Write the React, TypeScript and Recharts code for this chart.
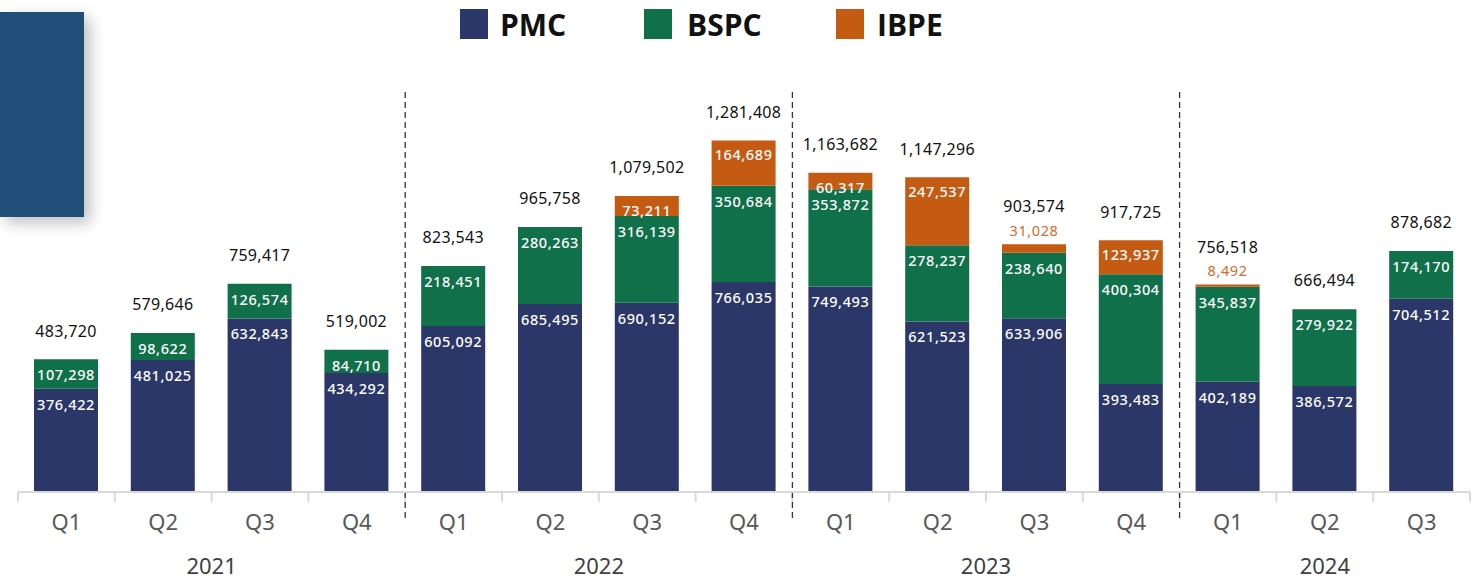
import { BarChart, Bar, XAxis, YAxis, LabelList, ReferenceLine } from 'recharts';

const years = ['2021', '2022', '2023', '2024'];
const quarters = ['Q1', 'Q2', 'Q3', 'Q4', 'Q1', 'Q2', 'Q3', 'Q4', 'Q1', 'Q2', 'Q3', 'Q4', 'Q1', 'Q2', 'Q3'];
const quarterYears = ['2021', '2021', '2021', '2021', '2022', '2022', '2022', '2022', '2023', '2023', '2023', '2023', '2024', '2024', '2024'];
const pmc = [376422, 481025, 632843, 434292, 605092, 685495, 690152, 766035, 749493, 621523, 633906, 393483, 402189, 386572, 704512];
const bspc = [107298, 98622, 126574, 84710, 218451, 280263, 316139, 350684, 353872, 278237, 238640, 400304, 345837, 279922, 174170];
const ibpe = [0, 0, 0, 0, 0, 0, 73211, 164689, 60317, 247537, 31028, 123937, 8492, 0, 0];
const totals = [483720, 579646, 759417, 519002, 823543, 965758, 1079502, 1281408, 1163682, 1147296, 903574, 917725, 756518, 666494, 878682];

const data = quarters.map((q, i) => ({
  id: quarterYears[i] + '-' + q,
  q,
  year: quarterYears[i],
  pmc: pmc[i],
  bspc: bspc[i],
  ibpe: ibpe[i],
  total: totals[i],
}));

const ids = data.map((d) => d.id);
// first quarter of each year after the first -> dashed separators
const yearStarts = years.slice(1).map((y) => y + '-Q1');
// tick on the quarter just left of each year's middle
const yearTicks = years.map((y) => {
  const qs = ids.filter((id) => id.startsWith(y));
  return qs[Math.floor((qs.length - 1) / 2)];
});

const COLORS = { pmc: '#2b3669', bspc: '#10704a', ibpe: '#c55a13' };
const FONT = '"Noto Sans", sans-serif';
const fmt = (v: number) => v.toLocaleString('en-US');

function InsideLabel(props: any) {
  const { x, y, width, height, value } = props;
  if (!value || height < 14) return null;
  return (
    <text x={x + width / 2} y={y + 17} fill="#fff" fontSize={14.5} fontWeight={500}
      fontFamily={FONT} textAnchor="middle" dominantBaseline="middle" letterSpacing={0.6}>
      {fmt(value)}
    </text>
  );
}

function IbpeLabel(props: any) {
  const { x, y, width, height, value } = props;
  if (!value) return null;
  const small = height < 14;
  return (
    <text x={x + width / 2} y={small ? y - 12 : y + 16} fill={small ? '#d9692a' : '#fff'}
      fontSize={14.5} fontWeight={small ? 400 : 500} fontFamily={FONT}
      textAnchor="middle" dominantBaseline="middle" letterSpacing={0.6}>
      {fmt(value)}
    </text>
  );
}

// rendered on the BSPC bar (always present); the IBPE part on top is derived from the bar's own px/unit ratio
function TotalLabel(props: any) {
  const { x, y, width, height, index } = props;
  const ratio = height / bspc[index];
  const ibpeH = ibpe[index] * ratio;
  const top = y - ibpeH;
  const smallIbpe = ibpe[index] > 0 && ibpeH < 14;
  return (
    <text x={x + width / 2} y={top - (smallIbpe ? 36 : 27)} fill="#111" fontSize={16}
      fontFamily={FONT} textAnchor="middle" dominantBaseline="middle" letterSpacing={0.3}>
      {fmt(totals[index])}
    </text>
  );
}

function YearTick(props: any) {
  const { x, y, payload } = props;
  const year = payload.value.slice(0, 4);
  const count = quarterYears.filter((v) => v === year).length;
  const cx = count % 2 === 0 ? x + payload.offset : x;
  return (
    <text x={cx} y={y + 26} fill="#404040" fontSize={22} fontFamily={FONT} textAnchor="middle">
      {year}
    </text>
  );
}

function Legend() {
  const items = [
    { name: 'PMC', color: COLORS.pmc, box: 460, text: 500 },
    { name: 'BSPC', color: COLORS.bspc, box: 644, text: 687 },
    { name: 'IBPE', color: COLORS.ibpe, box: 836, text: 877 },
  ];
  return (
    <>
      {items.map((it) => (
        <div key={it.name}>
          <div style={{ position: 'absolute', left: it.box, top: 9, width: 28, height: 30, background: it.color }} />
          <div style={{ position: 'absolute', left: it.text, top: 5, fontFamily: '"Open Sans", sans-serif', fontWeight: 700, fontSize: 30, lineHeight: '40px', color: '#111' }}>
            {it.name}
          </div>
        </div>
      ))}
    </>
  );
}

export default function App() {
  const last = ids[ids.length - 1];
  return (
    <div style={{ position: 'absolute', left: 0, top: 0, width: 1473, height: 583, background: '#fff', overflow: 'hidden' }}>
      <div style={{ position: 'absolute', left: 0, top: 12, width: 84, height: 205, background: '#1f4e79', boxShadow: '6px 6px 14px rgba(0,0,0,0.25)' }} />
      <Legend />
      <BarChart width={1473} height={583} data={data} margin={{ top: 108, right: 3, left: 18, bottom: 0 }} barSize={64}>
        <YAxis hide domain={[0, 1400000]} />
        <XAxis dataKey="id" height={48} axisLine={{ stroke: '#d9d9d9', strokeWidth: 2 }} tickLine={false}
          tickFormatter={(v: string) => v.slice(5)}
          tick={{ fill: '#595959', fontSize: 22, fontFamily: FONT }} tickMargin={16} interval={0} />
        <XAxis xAxisId="yr" dataKey="id" height={43} axisLine={false} tickLine={false}
          ticks={yearTicks} interval={0} tick={YearTick} />
        {ids.map((id) => (
          <ReferenceLine key={'t' + id} position="start" ifOverflow="visible" stroke="#d9d9d9" strokeWidth={2}
            segment={[{ x: id, y: 0 }, { x: id, y: -36000 }]} />
        ))}
        <ReferenceLine position="end" ifOverflow="visible" stroke="#d9d9d9" strokeWidth={2}
          segment={[{ x: last, y: 0 }, { x: last, y: -36000 }]} />
        {yearStarts.map((id) => (
          <ReferenceLine key={'s' + id} position="start" ifOverflow="visible" stroke="#333" strokeWidth={1.3}
            strokeDasharray="6 4" segment={[{ x: id, y: 1458000 }, { x: id, y: -102000 }]} />
        ))}
        <Bar dataKey="pmc" stackId="a" fill={COLORS.pmc} isAnimationActive={false}>
          <LabelList dataKey="pmc" content={InsideLabel} />
        </Bar>
        <Bar dataKey="bspc" stackId="a" fill={COLORS.bspc} isAnimationActive={false}>
          <LabelList dataKey="bspc" content={InsideLabel} />
          <LabelList dataKey="total" content={TotalLabel} />
        </Bar>
        <Bar dataKey="ibpe" stackId="a" fill={COLORS.ibpe} isAnimationActive={false}>
          <LabelList dataKey="ibpe" content={IbpeLabel} />
        </Bar>
      </BarChart>
    </div>
  );
}
